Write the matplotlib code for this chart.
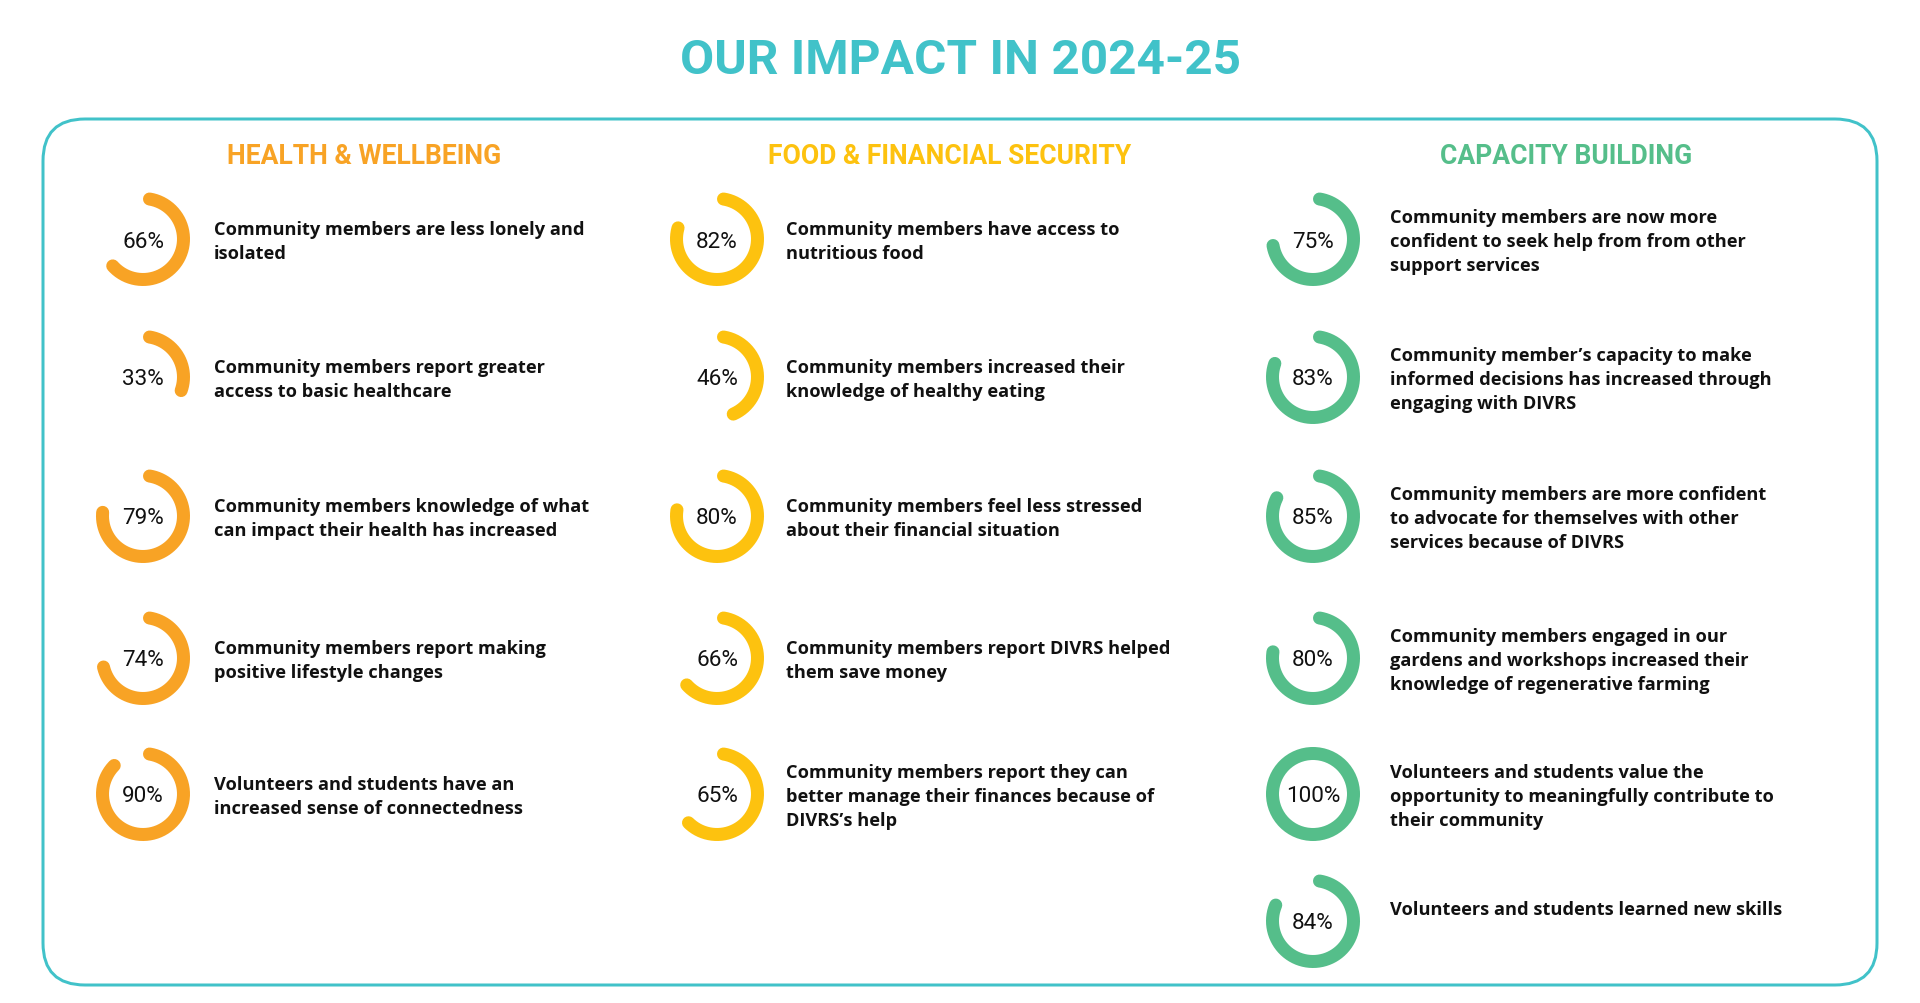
import matplotlib
matplotlib.use("Agg")
import matplotlib.pyplot as plt
import numpy as np
from matplotlib.patches import FancyBboxPatch, Circle

title = "OUR IMPACT IN 2024-25"
headers = ["HEALTH & WELLBEING", "FOOD & FINANCIAL SECURITY", "CAPACITY BUILDING"]

health_values = [66, 33, 79, 74, 90]
health_labels = [
    "Community members are less lonely and\nisolated",
    "Community members report greater\naccess to basic healthcare",
    "Community members knowledge of what\ncan impact their health has increased",
    "Community members report making\npositive lifestyle changes",
    "Volunteers and students have an\nincreased sense of connectedness",
]

food_values = [82, 46, 80, 66, 65]
food_labels = [
    "Community members have access to\nnutritious food",
    "Community members increased their\nknowledge of healthy eating",
    "Community members feel less stressed\nabout their financial situation",
    "Community members report DIVRS helped\nthem save money",
    "Community members report they can\nbetter manage their finances because of\nDIVRS\u2019s help",
]

capacity_values = [75, 83, 85, 80, 100, 84]
capacity_labels = [
    "Community members are now more\nconfident to seek help from from other\nsupport services",
    "Community member\u2019s capacity to make\ninformed decisions has increased through\nengaging with DIVRS",
    "Community members are more confident\nto advocate for themselves with other\nservices because of DIVRS",
    "Community members engaged in our\ngardens and workshops increased their\nknowledge of regenerative farming",
    "Volunteers and students value the\nopportunity to meaningfully contribute to\ntheir community",
    "Volunteers and students learned new skills",
]

TEAL = "#41c2c9"
colors = ["#f8a325", "#fdc20f", "#55be8a"]

# layout in pixels (figure is 1920x1004 at dpi 100)
PT = 0.72
col_ring_x = [143, 717, 1313]
col_text_x = [214, 786, 1390]
col_head_x = [364, 950, 1566]
row_y = [240, 378, 517, 659, 795, 922]
ring_r = 40.5
ring_w = 13

fig = plt.figure(figsize=(19.2, 10.04), dpi=100)
ax = fig.add_axes([0, 0, 1, 1])
ax.set_xlim(0, 1920)
ax.set_ylim(1004, 0)
ax.axis("off")

ax.text(960, 61, title, ha="center", va="center", color=TEAL,
        fontsize=49.5 * PT, fontfamily="Roboto", fontweight="bold")

box = FancyBboxPatch((43, 120), 1834, 866,
                     boxstyle="round,pad=0,rounding_size=42",
                     fill=False, edgecolor=TEAL, linewidth=3 * PT)
ax.add_patch(box)


def ring(cx, cy, pct, color):
    if pct >= 100:
        ax.add_patch(Circle((cx, cy), ring_r, fill=False, edgecolor=color,
                            linewidth=ring_w * PT))
        return
    d = np.degrees(np.arcsin(ring_w / 2 / ring_r))
    th = np.radians(np.linspace(90 - d, 90 - pct * 3.6 + d, 200))
    ax.plot(cx + ring_r * np.cos(th), cy - ring_r * np.sin(th), color=color,
            linewidth=ring_w * PT, solid_capstyle="round")


columns = [(health_values, health_labels), (food_values, food_labels),
           (capacity_values, capacity_labels)]

for c, (vals, labels) in enumerate(columns):
    ax.text(col_head_x[c], 157, headers[c], ha="center", va="center",
            color=colors[c], fontsize=26.5 * PT, fontfamily="Roboto",
            fontweight="bold")
    for i, (v, lab) in enumerate(zip(vals, labels)):
        y = row_y[i]
        ring(col_ring_x[c], y, v, colors[c])
        ax.text(col_ring_x[c], y + 2, f"{v}%", ha="center", va="center",
                color="#111111", fontsize=22.5 * PT, fontfamily="Roboto")
        ty = y + 2 if "\n" in lab else y - 12
        ax.text(col_text_x[c], ty, lab, ha="left", va="center",
                color="#111111", fontsize=18.3 * PT, fontfamily="Open Sans",
                fontweight="bold", linespacing=1.43)

fig.savefig("out.png", dpi=100)
